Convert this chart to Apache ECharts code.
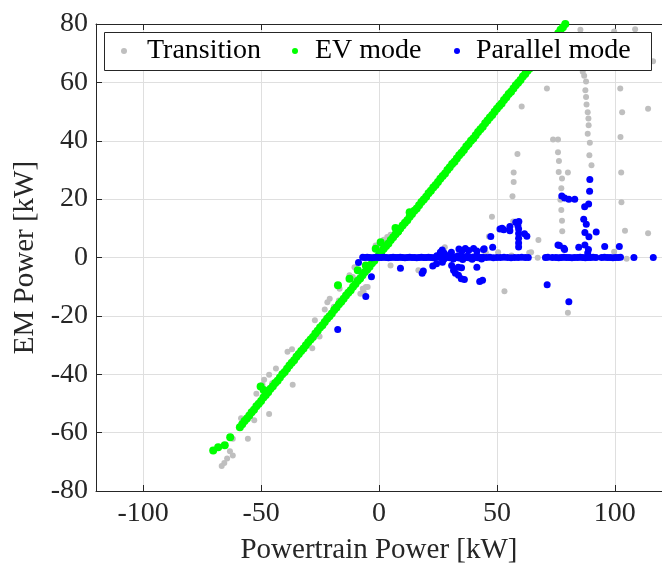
<!DOCTYPE html>
<html>
<head>
<meta charset="utf-8">
<script src="https://cdn.jsdelivr.net/npm/echarts@6/dist/echarts.min.js"></script>
<style>
  html, body { margin: 0; padding: 0; background: #ffffff; }
  #chart { width: 662px; height: 570px; }
</style>
</head>
<body>
<div id="chart"></div>
<script>
// Axis ticks
const xTicks = [-100, -50, 0, 50, 100];
const yTicks = [-80, -60, -40, -20, 0, 20, 40, 60, 80];

const seriesNames = ['Transition', 'EV mode', 'Parallel mode'];

// Operating points [powertrain power kW, EM power kW]
const transition = [
  [85.4, 78.0], [99.7, 77.4], [108.6, 78.2], [116.2, 67.2],
  [86.4, 63.6], [87.0, 62.3], [87.8, 60.3], [87.5, 57.3], [87.8, 55.0], [88.0, 52.4],
  [88.5, 49.8], [88.8, 47.6], [88.9, 45.3], [88.5, 42.4], [89.4, 39.3], [89.2, 35.0], [90.1, 31.6],
  [71.2, 57.9], [102.3, 57.9], [60.5, 51.7], [114.1, 51.0], [103.1, 49.8], [102.4, 41.3],
  [73.8, 40.4], [75.9, 40.4], [75.9, 36.1], [76.3, 33.1], [76.2, 29.3], [77.6, 27.1],
  [77.3, 23.7], [76.9, 19.8], [77.3, 16.3], [77.6, 12.6], [77.7, 9.0],
  [80.1, 29.1], [102.7, 29.1], [102.8, 18.9], [104.3, 9.2], [114.1, 8.3], [99.7, 2.0], [105.0, -0.4],
  [58.7, 35.5], [57.1, 29.1], [57.1, 25.9], [56.6, 21.0], [47.9, 14.0], [56.9, 12.3],
  [46.6, 7.2], [67.6, 6.0], [64.5, 1.8], [63.7, 1.6], [56.2, 0.7], [50.5, 1.8], [45.3, 1.6],
  [67.3, -0.1], [70.4, -0.1], [53.2, -11.6], [80.1, -18.9],
  [27.9, 3.5], [3.5, 7.0], [4.9, 7.8], [2.0, 6.1], [0.8, 4.1], [-1.4, 4.1], [4.9, -2.7], [16.7, -4.4],
  [-10.4, -3.3], [-12.5, -6.1], [-11.1, -6.7], [-4.8, -10.1], [-5.6, -10.1], [-6.9, -10.7],
  [-7.9, -12.4], [-6.5, -11.8], [-16.7, -10.7], [-20.9, -14.1], [-21.9, -15.3], [-17.0, -14.7],
  [-19.1, -16.9], [-23.0, -17.8], [-27.2, -21.5], [-25.2, -27.1], [-28.3, -31.1], [-31.3, -30.2],
  [-36.9, -31.4], [-38.8, -32.3], [-43.7, -38.0], [-46.6, -40.2], [-48.7, -41.9], [-49.4, -43.6],
  [-48.1, -45.3], [-45.3, -43.1], [-36.6, -43.6], [-52.0, -46.7], [-46.6, -53.6], [-58.5, -55.1],
  [-52.9, -55.8], [-55.6, -62.1], [-62.0, -62.1], [-63.2, -66.4], [-62.0, -67.8], [-64.4, -68.9],
  [-65.6, -70.4], [-66.7, -71.4]
];

const evMode = [
  [-59, -58.2], [-58, -57.1], [-57, -56.0], [-56, -55.2], [-55, -54.1], [-54, -53.0], [-53, -52.2],
  [-52, -51.0], [-51, -50.1], [-50, -49.2], [-49, -48.0], [-48, -47.1], [-47, -46.2], [-46, -45.0],
  [-45, -44.1], [-44, -43.0], [-43, -42.2], [-42, -41.1], [-41, -40.0], [-40, -39.2], [-39, -38.1],
  [-38, -37.0], [-37, -36.1], [-36, -35.2], [-35, -34.0], [-34, -33.1], [-33, -32.0], [-32, -31.2],
  [-31, -30.1], [-30, -29.0], [-29, -28.1], [-28, -27.2], [-27, -26.0], [-26, -25.1], [-25, -24.0],
  [-24, -23.2], [-23, -22.1], [-22, -21.0], [-21, -20.1], [-20, -19.2], [-19, -18.0], [-18, -17.1],
  [-17, -16.0], [-16, -15.2], [-15, -14.1], [-14, -13.0], [-13, -12.1], [-12, -11.2], [-11, -10.0],
  [-10, -9.1], [-9, -8.0], [-8, -7.2], [-7, -6.1], [-6, -5.0], [-5, -4.1], [-4, -3.2], [-3, -2.0],
  [-2, -1.1], [-1, 0.0], [0, 0.8], [1, 1.9], [2, 3.0], [3, 3.9], [4, 4.8], [5, 6.0], [6, 6.9],
  [7, 8.0], [8, 8.8], [9, 9.9], [10, 11.0], [11, 11.9], [12, 12.8], [13, 14.0], [14, 14.9],
  [15, 16.0], [16, 16.8], [17, 17.9], [18, 19.0], [19, 19.9], [20, 20.8], [21, 22.0], [22, 22.9],
  [23, 24.0], [24, 24.8], [25, 25.9], [26, 27.0], [27, 27.9], [28, 28.8], [29, 30.0], [30, 30.9],
  [31, 32.0], [32, 32.8], [33, 33.9], [34, 35.0], [35, 35.9], [36, 36.8], [37, 38.0], [38, 38.9],
  [39, 40.0], [40, 40.8], [41, 41.9], [42, 43.0], [43, 43.9], [44, 44.8], [45, 46.0], [46, 46.9],
  [47, 48.0], [48, 48.8], [49, 49.9], [50, 51.0], [51, 51.9], [52, 52.8], [53, 54.0], [54, 54.9],
  [55, 56.0], [56, 56.8], [57, 57.9], [58, 59.0], [59, 59.9], [60, 60.8], [61, 62.0], [62, 62.9],
  [63, 64.0], [64, 64.8], [65, 65.9], [66, 67.0], [67, 67.9], [68, 68.8], [69, 70.0], [70, 70.9],
  [71, 72.0], [72, 72.8], [73, 73.9], [74, 75.0], [75, 75.9], [76, 76.8], [77, 78.0], [78, 78.9],
  [79, 80.0],
  [-63.1, -61.6], [-65.4, -64.3], [-68.2, -65.0], [-70.3, -66.1],
  [-50.2, -44.2], [-48.9, -45.4],
  [-17.4, -9.5], [-12.5, -7.3], [-9.0, -4.4], [-5.6, -2.7], [-1.4, 3.0], [0.7, 5.2],
  [7.0, 10.1], [8.1, 9.0], [13.0, 15.5]
];

const parallelMode = [
  // y = 0 line
  [-6.9, 0.1], [-6, 0], [-5, 0.1], [-4, 0], [-3, -0.1], [-2, 0], [-1, 0.1], [0, 0], [1, 0], [2, 0.1],
  [3, 0], [4, -0.1], [5, 0], [6, 0.1], [7, 0], [8, 0], [9, 0.1], [10, 0], [11, -0.1], [12, 0],
  [13, 0.1], [14, 0], [15, 0], [16, -0.1], [17, 0], [18, 0.1], [19, 0], [20, 0], [21, 0.1], [22, 0],
  [23, -0.1], [24, 0], [25, 0.2], [26, 0], [27, -0.2], [28, 0], [29, 0.1], [30, -0.1], [31, 0],
  [32, 0.2], [33, 0], [34, -0.2], [35, 0], [36, 0.1], [37, 0], [38, -0.1], [39, 0], [40, 0.2],
  [41, 0], [42, -0.1], [43, 0], [44, 0.1],
  [24.5, 0.6], [27.5, -0.6], [29.5, 0.7], [31.5, -0.5], [33.5, 0.6], [35.5, -0.7], [37.5, 0.5],
  [39.5, -0.6], [41.5, 0.7], [43.5, -0.5],
  [45.5, 0], [47, 0.1], [48.5, -0.1], [50, 0], [51.5, 0], [53, 0.1], [54.5, 0], [56, -0.1],
  [57.5, 0], [59, 0], [60.5, 0.1], [62, 0], [63.3, 0],
  [70.6, 0], [71.6, 0.1], [73.5, 0], [75, 0], [76.2, -0.1], [77.3, 0], [78.4, 0.1], [79.5, 0],
  [80.6, 0], [81.8, -0.1], [83, 0], [84.2, 0], [85.3, 0.1], [86.4, 0], [87.5, -0.1], [88.6, 0],
  [89.7, 0], [90.8, 0.1], [92, 0], [94.4, 0], [95.6, 0.1], [96.8, 0], [98, 0], [99.2, -0.1],
  [100.3, 0], [101.4, 0], [102.4, 0.1], [108.1, 0], [116.3, 0],
  // off the line
  [-8.7, -1.7], [-3.2, -6.6], [-5.6, -13.4], [-17.5, -24.7], [9.1, -3.7], [18.3, -5.4], [18.8, -4.6],
  [22.8, -2.9], [24.4, -2.1], [26.9, -1.6], [30.8, -2.7], [31.6, -4.4], [32.4, -5.4], [33.7, -6.1],
  [34.9, -7.3], [33.6, -3.3], [35.0, -3.5], [36.2, -7.5], [41.5, -3.3], [42.7, -8.2], [43.9, -7.8],
  [71.3, -9.3], [80.5, -15.2],
  [26.0, 1.8], [26.8, 2.6], [27.6, 1.5], [30.7, 1.8], [33.9, 2.9], [35.2, 2.2], [36.6, 3.1],
  [38.0, 2.4], [40.1, 3.1], [41.5, 2.2], [44.3, 2.7], [44.6, 3.0], [47.4, 7.2], [48.2, 3.5],
  [51.3, 9.8], [52.2, 10.0], [52.9, 9.5], [55.5, 10.6], [55.5, 9.2], [58.0, 12.1], [59.3, 12.3],
  [58.9, 10.9], [59.2, 9.8], [59.2, 8.2], [59.2, 6.6], [59.2, 5.0], [59.2, 3.6], [61.7, 8.1], [62.7, 7.3],
  [75.9, 4.3], [76.5, 4.1], [78.4, 3.2], [78.7, 2.7], [77.5, 21.1], [78.7, 20.4], [80.5, 20.0],
  [83.0, 20.0], [89.4, 26.7], [89.3, 22.7], [88.9, 18.3], [87.2, 17.4], [86.8, 13.1], [87.9, 11.4],
  [87.3, 8.6], [89.0, 7.1], [92.1, 8.7], [84.7, 3.5], [87.3, 4.3], [88.8, 2.7], [88.5, 1.5],
  [95.7, 3.8], [101.9, 3.8]
];

const FONT = "'Liberation Serif', 'Times New Roman', serif";
const INK = '#262626';
const GRIDC = '#dfdfdf';

const chart = echarts.init(document.getElementById('chart'), null, { renderer: 'canvas' });

// one legend entry per component so each entry sits at its own place in the frame
function legendEntry(name, left, itemWidth) {
  return {
    data: [name],
    left: left, top: 37,
    padding: [0, 0, 0, 1],
    itemWidth: itemWidth, itemHeight: 6,
    icon: 'circle',
    selectedMode: false,
    textStyle: { fontSize: 28, fontFamily: FONT, color: '#000000' }
  };
}

const xCommon = {
  type: 'value', min: -120, max: 120,
  axisLine: { show: true, onZero: false, lineStyle: { color: INK, width: 1 } },
  axisTick: { show: true, inside: true, length: 6, customValues: xTicks, lineStyle: { color: INK } }
};

chart.setOption({
  backgroundColor: '#ffffff',
  animation: false,
  grid: { left: 96, top: 24, width: 574, height: 470, containLabel: false },
  graphic: [{
    type: 'rect', z: 3, silent: true,
    shape: { x: 104.5, y: 32.5, width: 547, height: 38 },
    style: { fill: '#ffffff', stroke: INK, lineWidth: 1 }
  }],
  legend: [
    legendEntry(seriesNames[0], 120, 36),
    legendEntry(seriesNames[1], 291, 30),
    legendEntry(seriesNames[2], 453, 28)
  ],
  xAxis: [
    Object.assign({}, xCommon, {
      position: 'bottom',
      name: 'Powertrain Power [kW]', nameLocation: 'middle', nameGap: 45,
      nameTextStyle: { fontSize: 29, fontFamily: FONT, color: INK },
      axisLabel: { customValues: xTicks, margin: 9, fontSize: 28, fontFamily: FONT, color: INK },
      splitLine: { show: true, lineStyle: { color: GRIDC, width: 1 } }
    }),
    Object.assign({}, xCommon, {
      position: 'top',
      axisLabel: { show: false },
      splitLine: { show: false }
    })
  ],
  yAxis: {
    type: 'value', min: -80, max: 80, interval: 20,
    name: 'EM Power [kW]', nameLocation: 'middle', nameGap: 53,
    nameTextStyle: { fontSize: 29, fontFamily: FONT, color: INK },
    axisLine: { show: true, onZero: false, lineStyle: { color: INK, width: 1 } },
    axisTick: { show: true, inside: true, length: 6, lineStyle: { color: INK } },
    axisLabel: { margin: 8, fontSize: 28, fontFamily: FONT, color: INK,
      formatter: v => (yTicks.indexOf(v) >= 0 ? String(v) : '') },
    splitLine: { show: true, lineStyle: { color: GRIDC, width: 1 } }
  },
  series: [
    { name: seriesNames[0], type: 'scatter', data: transition, symbolSize: 6,
      itemStyle: { color: '#bfbfbf', opacity: 1 }, xAxisIndex: 0 },
    { name: seriesNames[1], type: 'scatter', data: evMode, symbolSize: 8,
      itemStyle: { color: '#00ff00', opacity: 1 }, xAxisIndex: 0 },
    { name: seriesNames[2], type: 'scatter', data: parallelMode, symbolSize: 7,
      itemStyle: { color: '#0000ff', opacity: 1 }, xAxisIndex: 0 }
  ]
});
</script>
</body>
</html>
